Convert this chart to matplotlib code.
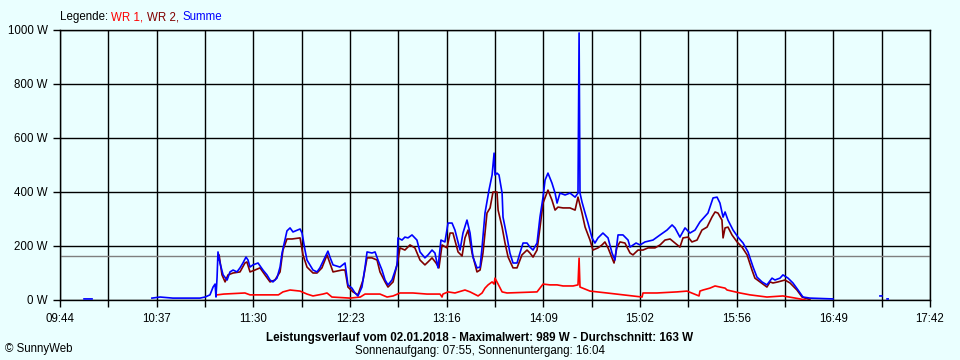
import numpy as np
import matplotlib
matplotlib.use("Agg")
import matplotlib.pyplot as plt
from matplotlib.offsetbox import TextArea, HPacker, AnchoredOffsetbox

nan = np.nan
plt.rcParams["font.family"] = ["Liberation Sans", "DejaVu Sans"]

# time axis: minutes after 09:44, range 09:44 .. 17:42
x_span = 478
x_labels = ["09:44", "10:37", "11:30", "12:23", "13:16",
            "14:09", "15:02", "15:56", "16:49", "17:42"]
y_ticks = [0, 200, 400, 600, 800, 1000]
y_labels = ["0 W", "200 W", "400 W", "600 W", "800 W", "1000 W"]
avg_w = 163

# WR 1 (red)
wr1_t = [86.3, 90.0, 101.6, 104.4, 120.0, 122.5, 126.4, 131.9, 135.7, 139.0,
         144.5, 146.7, 149.4, 159.3, 165.0, 167.6, 175.8, 179.7, 183.0, 186.8,
         193.9, 201.6, 208.8, 209.9, 210.4, 213.2, 217.0, 222.5, 225.3, 229.7,
         231.9, 233.5, 235.2, 237.4, 238.5, 239.0, 240.7, 242.9, 245.6, 262.1,
         265.4, 269.2, 273.1, 276.4, 281.9, 284.6, 285.2, 285.7, 291.2, 300.5,
         319.8, 320.3, 328.0, 339.0, 344.5, 351.1, 351.6, 353.3, 357.1, 359.9,
         362.6, 365.4, 366.5, 373.6, 379.1, 388.4, 397.2, 406.6, 409.3]
wr1_w = [19, 22, 26, 19, 19, 30, 37, 33, 22, 15,
         22, 26, 11, 7, 11, 22, 22, 11, 15, 26,
         26, 22, 22, 11, 22, 30, 26, 37, 30, 15,
         26, 44, 56, 67, 59, 81, 59, 30, 26, 30,
         59, 56, 56, 52, 52, 56, 155, 48, 33, 26,
         11, 26, 26, 30, 33, 15, 33, 37, 44, 52,
         48, 44, 37, 26, 19, 11, 15, 4, 0]

# WR 2 (dark red)
wr2_t = [86.8, 87.4, 89.0, 90.7, 92.3, 95.1, 98.9, 101.6, 102.7, 104.4,
         107.1, 109.9, 112.6, 115.4, 118.1, 120.9, 122.5, 124.7, 127.5, 131.9,
         133.5, 135.7, 139.0, 141.2, 143.9, 146.7, 148.3, 150.0, 154.9, 156.6,
         158.2, 161.0, 163.7, 166.5, 168.7, 171.4, 174.2, 175.8, 178.6, 180.2,
         183.0, 185.7, 186.8, 189.5, 192.3, 195.0, 197.8, 200.5, 202.2, 204.4,
         206.6, 208.2, 209.9, 212.6, 214.3, 215.9, 218.7, 220.9, 222.5, 224.2,
         226.4, 229.1, 230.8, 232.4, 234.6, 236.3, 237.9, 240.1, 240.7, 242.9,
         244.5, 246.2, 248.9, 251.1, 253.8, 256.6, 258.2, 259.9, 262.1, 263.7,
         265.4, 268.1, 270.3, 272.0, 273.6, 276.4, 280.2, 283.0, 284.6, 286.8,
         288.5, 291.2, 292.8, 295.6, 297.8, 299.4, 301.1, 303.3, 304.4, 306.0,
         307.7, 310.4, 313.2, 314.8, 317.6, 320.3, 323.1, 326.9, 329.7, 332.4,
         335.2, 337.9, 340.6, 342.3, 345.1, 347.2, 350.0, 352.7, 355.5, 358.2,
         359.9, 361.5, 363.7, 364.3, 365.4, 367.0, 369.2, 372.0, 374.7, 377.5,
         380.2, 381.8, 384.6, 388.4, 390.1, 391.7, 394.5, 398.3, 401.1, 404.9,
         407.7, 409.3, 412.0]
wr2_w = [148, 167, 93, 67, 93, 100, 104, 137, 141, 104,
         111, 119, 93, 67, 74, 104, 185, 226, 226, 230,
         167, 122, 100, 100, 119, 167, 137, 104, 111, 111,
         48, 30, 19, 74, 156, 156, 148, 104, 67, 48,
         67, 148, 193, 185, 204, 193, 148, 130, 141, 156,
         137, 119, 204, 193, 248, 248, 178, 163, 230, 259,
         174, 104, 111, 174, 322, 341, 400, 400, 333, 270,
         211, 159, 119, 119, 167, 185, 174, 159, 185, 267,
         359, 407, 370, 333, 344, 341, 341, 333, 381, 322,
         270, 222, 185, 193, 204, 215, 193, 156, 137, 196,
         215, 211, 174, 167, 185, 185, 193, 193, 204, 222,
         226, 211, 196, 230, 233, 215, 222, 259, 270, 307,
         326, 322, 296, 230, 267, 270, 241, 215, 196, 167,
         111, 81, 67, 48, 67, 63, 67, 74, 63, 37,
         11, 7, 2]

# Summe (blue)
sum_t = [13.2, 17.6, 17.7, 50.5, 55.0, 62.0, 76.9, 79.7, 82.4, 84.1, 85.2,
         85.7, 86.3, 86.8, 87.9, 89.6, 91.8, 93.4, 95.1, 97.2, 98.9,
         100.5, 102.2, 103.3, 104.4, 106.0, 108.8, 111.5, 113.7, 115.4, 117.0,
         119.2, 120.9, 122.0, 123.6, 124.7, 126.4, 128.0, 131.9, 133.0, 134.6,
         135.7, 139.0, 141.2, 142.8, 145.6, 147.2, 148.3, 150.0, 153.8, 156.6,
         158.2, 160.4, 162.1, 163.7, 165.9, 167.6, 168.7, 171.4, 173.1, 174.7,
         176.9, 178.6, 180.2, 182.4, 185.2, 185.7, 187.9, 189.5, 191.2, 193.4,
         196.1, 197.8, 200.5, 202.2, 204.4, 206.0, 207.7, 209.3, 211.5, 213.2,
         215.4, 217.0, 219.8, 221.4, 223.6, 225.3, 226.9, 229.1, 230.8, 231.9,
         233.5, 235.7, 237.4, 238.5, 239.0, 240.1, 241.2, 242.9, 243.4, 245.6,
         247.2, 248.9, 251.1, 252.7, 254.4, 256.6, 258.2, 259.9, 262.1, 263.7,
         265.4, 266.5, 268.1, 270.3, 272.0, 273.1, 274.7, 277.5, 280.2, 283.0,
         284.6, 285.2, 285.7, 286.8, 288.5, 290.1, 292.3, 293.9, 295.6, 298.3,
         301.1, 303.3, 304.9, 306.6, 309.3, 312.1, 313.2, 316.5, 318.7, 321.4,
         325.8, 329.7, 333.5, 336.3, 337.9, 340.6, 343.4, 346.1, 348.9, 351.6,
         356.0, 358.8, 361.0, 362.6, 364.3, 365.4, 367.0, 369.8, 372.5, 375.3,
         378.0, 380.8, 382.9, 385.7, 388.4, 391.2, 392.8, 395.6, 397.2, 400.0,
         402.7, 405.5, 408.2, 412.1, 424.7, 425.3,
         450.5, 451.6, 451.7, 454.4, 455.0]
sum_w = [4, 4, nan, 7, 11, 7, 7, 11, 19, 48, 59,
         11, 85, 178, 137, 93, 74, 104, 111, 104, 119,
         137, 159, 148, 122, 130, 137, 111, 93, 74, 67,
         81, 122, 174, 222, 256, 267, 252, 263, 248, 185,
         148, 111, 104, 119, 159, 181, 159, 130, 122, 137,
         56, 44, 26, 15, 48, 122, 178, 174, 178, 148,
         111, 74, 56, 74, 130, 230, 222, 233, 230, 241,
         222, 178, 156, 167, 185, 174, 119, 222, 215, 285,
         285, 259, 185, 248, 296, 248, 159, 119, 122, 196,
         322, 407, 463, 544, 463, 470, 463, 396, 307, 233,
         174, 137, 137, 174, 211, 211, 196, 185, 211, 307,
         381, 444, 470, 433, 396, 359, 396, 389, 396, 381,
         396, 989, 396, 363, 322, 285, 230, 211, 230, 248,
         230, 174, 148, 241, 241, 222, 196, 211, 204, 215,
         222, 241, 259, 278, 267, 233, 267, 248, 259, 289,
         322, 378, 381, 359, 307, 326, 296, 259, 233, 211,
         178, 122, 85, 67, 56, 81, 74, 81, 93, 81,
         63, 37, 11, 7, 4, nan,
         15, 15, nan, 4, 4]

bg = "#EAFFFF"
fig = plt.figure(figsize=(9.6, 3.6), dpi=100, facecolor=bg)
ax = fig.add_axes([60 / 960, 60 / 360, 870 / 960, 270 / 360], facecolor=bg)

ax.axhline(avg_w, color="#808080", lw=1.0, zorder=1.5)
ax.plot(wr1_t, wr1_w, color="#FF0000", lw=1.2, zorder=3)
ax.plot(wr2_t, wr2_w, color="#800000", lw=1.2, zorder=3)
ax.plot(sum_t, sum_w, color="#0000FF", lw=1.2, zorder=3)

# gridlines every half label step (26.5 min), labels on every other
minor = np.linspace(0, x_span, 19)
ax.set_xlim(0, x_span)
ax.set_ylim(0, 1000)
ax.set_xticks(minor)
ax.set_xticklabels([x_labels[i // 2] if i % 2 == 0 else "" for i in range(19)])
ax.set_yticks(y_ticks)
ax.set_yticklabels(y_labels)
ax.tick_params(direction="out", length=5, width=1, color="black",
               labelsize=8.3, pad=4)
ax.tick_params(axis="x", pad=4)
ax.grid(True, color="black", lw=1, zorder=1)
ax.set_axisbelow(True)
for s in ax.spines.values():
    s.set_color("black")
    s.set_linewidth(1)

parts = [("Legende: ", "black"), ("WR 1, ", "#FF0000"),
         ("WR 2, ", "#800000"), ("Summe", "#0000FF")]
box = HPacker(children=[TextArea(s, textprops=dict(color=c, size=8.3))
                        for s, c in parts], pad=0, sep=0)
fig.add_artist(AnchoredOffsetbox(loc="center left", child=box, pad=0,
                                 borderpad=0, frameon=False,
                                 bbox_to_anchor=(60 / 960, 1 - 17 / 360),
                                 bbox_transform=fig.transFigure))

fig.text(0.5, 1 - 338 / 360,
         "Leistungsverlauf vom 02.01.2018 - Maximalwert: 989 W - Durchschnitt: 163 W",
         ha="center", va="center", fontsize=8.4, fontweight="bold")
fig.text(0.5, 1 - 351 / 360, "Sonnenaufgang: 07:55, Sonnenuntergang: 16:04",
         ha="center", va="center", fontsize=8.3)
fig.text(5 / 960, 1 - 349 / 360, "© SunnyWeb", ha="left", va="center",
         fontsize=8.3)

fig.savefig("out.png", dpi=100, facecolor=bg)
